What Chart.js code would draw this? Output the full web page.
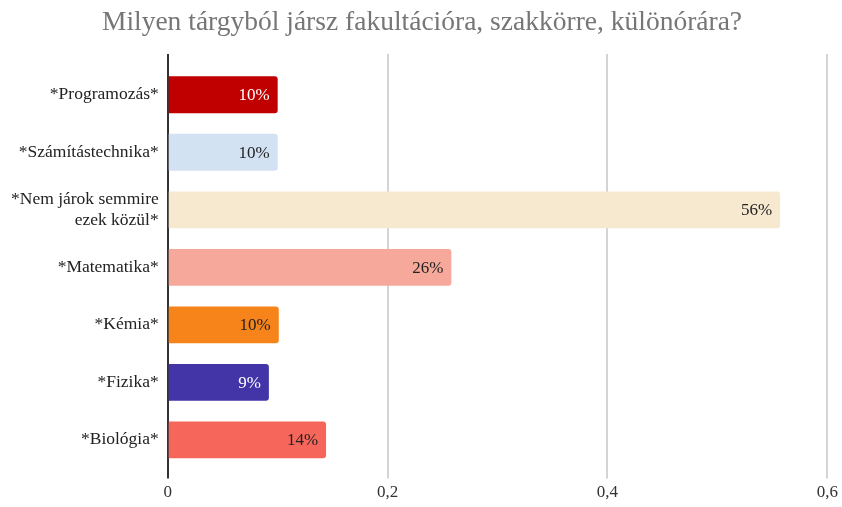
<!DOCTYPE html>
<html>
<head>
<meta charset="utf-8">
<script src="https://cdn.jsdelivr.net/npm/chart.js@4/dist/chart.umd.min.js"></script>
<style>
  html, body { margin: 0; padding: 0; background: #fff; }
  #wrap { width: 842px; height: 507px; }
</style>
</head>
<body>
<div id="wrap"><canvas id="myChart"></canvas></div>
<script>
const chartTitle = 'Milyen tárgyból jársz fakultációra, szakkörre, különórára?';
const categories = [
    '*Programozás*',
    '*Számítástechnika*',
    ['*Nem járok semmire', 'ezek közül*'],
    '*Matematika*',
    '*Kémia*',
    '*Fizika*',
    '*Biológia*'
];
const shares = [0.100, 0.100, 0.557, 0.258, 0.101, 0.092, 0.144];
const xTicks = [0, 0.2, 0.4, 0.6];

const barColors = ['#C00000', '#D3E2F2', '#F7E8D0', '#F6A89B', '#F7841B', '#4335A8', '#F7665A'];
const labelColors = ['#ffffff', '#222222', '#222222', '#222222', '#222222', '#ffffff', '#222222'];

const FONT = "'Liberation Serif', 'Times New Roman', serif";

function gridColor(value) {
    return value === 0 ? '#333333' : '#d4d4d4';
}

// value labels at the inner end of each bar + grid extension above the plot
const barLabels = {
    id: 'barLabels',
    beforeDatasetsDraw(chart) {
        const ctx = chart.ctx;
        const x = chart.scales.x;
        const top = chart.chartArea.top;
        ctx.save();
        ctx.lineWidth = 2;
        x.ticks.forEach(t => {
            const px = Math.round(x.getPixelForValue(t.value));
            ctx.strokeStyle = gridColor(t.value);
            ctx.beginPath();
            ctx.moveTo(px, top - 12);
            ctx.lineTo(px, top + 1);
            ctx.stroke();
        });
        ctx.restore();
    },
    afterDatasetsDraw(chart) {
        const ctx = chart.ctx;
        const meta = chart.getDatasetMeta(0);
        ctx.save();
        ctx.font = '17px ' + FONT;
        ctx.textAlign = 'right';
        ctx.textBaseline = 'middle';
        meta.data.forEach((bar, i) => {
            ctx.fillStyle = labelColors[i];
            ctx.fillText(Math.round(shares[i] * 100) + '%', bar.x - 8, bar.y + 1);
        });
        ctx.restore();
    }
};

const ctx = document.getElementById('myChart').getContext('2d');
const chart = new Chart(ctx, {
    type: 'bar',
    data: {
        labels: categories,
        datasets: [{
            data: shares,
            backgroundColor: barColors,
            borderRadius: 3,
            barPercentage: 0.64,
            categoryPercentage: 1
        }]
    },
    options: {
        indexAxis: 'y',
        responsive: true,
        maintainAspectRatio: false,
        animation: false,
        layout: { padding: { top: 0, bottom: 0, left: 2, right: 0 } },
        plugins: {
            legend: { display: false },
            tooltip: { enabled: false },
            title: {
                display: true,
                text: chartTitle,
                color: '#767676',
                font: { family: FONT, size: 27.5, weight: 'normal' },
                padding: { top: 6, bottom: 27 }
            }
        },
        scales: {
            x: {
                min: 0,
                max: 0.6,
                afterBuildTicks(scale) {
                    scale.ticks = xTicks.map(v => ({ value: v }));
                },
                border: { display: false },
                grid: {
                    color: c => gridColor(c.tick.value),
                    lineWidth: 2,
                    drawTicks: true,
                    tickLength: 10
                },
                ticks: {
                    color: '#333',
                    font: { family: FONT, size: 17 },
                    padding: 4,
                    callback: v => String(v).replace('.', ',')
                }
            },
            y: {
                border: { display: false },
                grid: { display: false, drawTicks: false },
                ticks: {
                    color: '#222',
                    font: { family: FONT, size: 17.5 },
                    padding: 9
                }
            }
        }
    },
    plugins: [barLabels]
});
</script>
</body>
</html>
